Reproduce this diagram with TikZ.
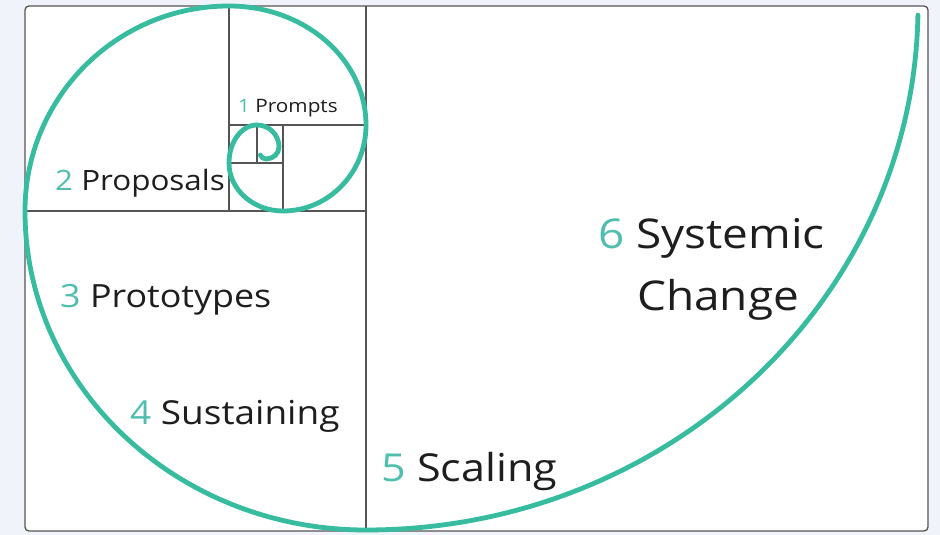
\documentclass[tikz,border=0pt]{standalone}
\usepackage{fontspec}
\setmainfont{Open Sans}
\definecolor{spiralc}{RGB}{56,188,160}
\definecolor{numc}{RGB}{80,190,175}
\definecolor{gridc}{RGB}{85,85,85}
\definecolor{bgc}{RGB}{240,243,250}
\definecolor{txtc}{RGB}{30,30,30}
\tikzset{
  gridline/.style={draw=gridc, line width=1.3pt},
  spiral/.style={draw=spiralc, line width=4.8pt, line cap=round, line join=round},
  lbl/.style={anchor=base west, inner sep=0pt, text=txtc, xscale=1.12},
}
\newcommand{\nm}[1]{{\color{numc}#1}}
\begin{document}
\begin{tikzpicture}[x=1pt,y=1pt]
\fill[bgc] (0,0) rectangle (940,535);
\useasboundingbox (0,0) rectangle (940,535);
% frame
\draw[gridline, fill=white, rounded corners=4pt] (25,4) rectangle (928,529);
% grid lines
\draw[gridline] (366,4) -- (366,529);
\draw[gridline] (25,324) -- (366,324);
\draw[gridline] (229,324) -- (229,529);
\draw[gridline] (229,410) -- (366,410);
\draw[gridline] (283,324) -- (283,410);
\draw[gridline] (229,372) -- (283,372);
\draw[gridline] (257,372) -- (257,410);
% spiral
\draw[spiral] (366,529) ++(-1:552 and 524)
  arc[start angle=-1, end angle=-90, x radius=552, y radius=524]
  arc[start angle=-90, end angle=-180, x radius=341, y radius=319]
  arc[start angle=180, end angle=90, x radius=204, y radius=205]
  arc[start angle=90, end angle=0, x radius=137, y radius=119]
  arc[start angle=0, end angle=-90, x radius=83, y radius=86]
  arc[start angle=-90, end angle=-180, x radius=54, y radius=48]
  arc[start angle=180, end angle=90, x radius=28, y radius=38]
  arc[start angle=90, end angle=0, x radius=22, y radius=22]
  arc[start angle=0, end angle=-90, x radius=13, y radius=12]
  arc[start angle=-90, end angle=-160, x radius=6, y radius=6];
% labels
\node[lbl, font=\fontsize{18.5}{22}\selectfont] (l1) at (238,422) {\nm{1} Prompts};
\node[lbl, font=\fontsize{28}{34}\selectfont] (l2) at (55,344) {\nm{2} Proposals};
\node[lbl, font=\fontsize{32}{38}\selectfont] (l3) at (60,227) {\nm{3} Prototypes};
\node[lbl, font=\fontsize{33}{40}\selectfont] (l4) at (130,110) {\nm{4} Sustaining};
\node[lbl, font=\fontsize{38.5}{46}\selectfont] (l5) at (381,53) {\nm{5} Scaling};
\node[lbl, font=\fontsize{41}{48}\selectfont] (l6) at (598,286) {\nm{6} Systemic};
\node[lbl, font=\fontsize{41}{48}\selectfont] (l7) at (637,224) {Change};
\end{tikzpicture}
\end{document}
